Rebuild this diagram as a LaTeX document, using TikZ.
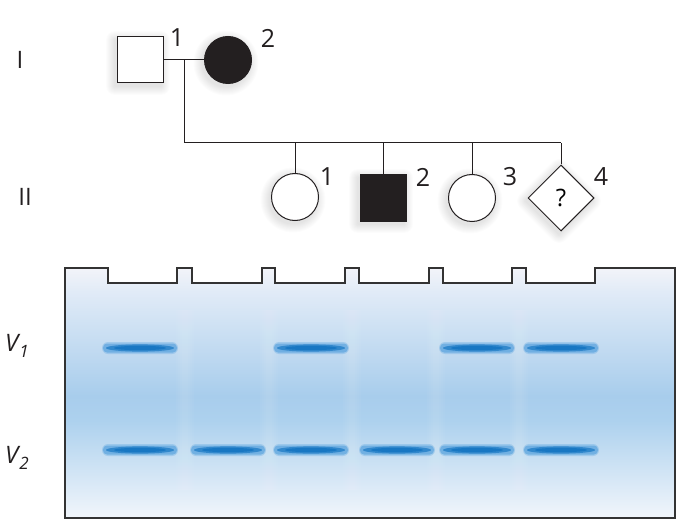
\documentclass[tikz,border=0pt]{standalone}
\usepackage{fontspec}
\setmainfont{Open Sans}
\usetikzlibrary{shapes.geometric}
\definecolor{ink}{HTML}{231F20}
\definecolor{gelA}{HTML}{F3F4F9}
\definecolor{gelB}{HTML}{E1EBF7}
\definecolor{gelC}{HTML}{A8CDEC}
\definecolor{gelD}{HTML}{ADD1EE}
\definecolor{gelE}{HTML}{F2F6FB}
\definecolor{bandc}{HTML}{2A8AD6}
\definecolor{bandd}{HTML}{0068BB}
\newcommand\gelband[2]{%
  \fill[bandc,opacity=0.22,rounded corners=6pt] (#1-38,#2-6) rectangle (#1+38,#2+6);
  \fill[bandc,opacity=0.40,rounded corners=4pt] (#1-37,#2-4.5) rectangle (#1+37,#2+4.5);
  \fill[bandd,opacity=0.55] (#1,#2) ellipse [x radius=34, y radius=3.6];
  \fill[bandd,opacity=0.50] (#1,#2) ellipse [x radius=26, y radius=2.2];
}
\newcommand\shsq[2]{\foreach \k in {1,...,9}{\fill[black,opacity=0.011,rounded corners=\k pt] (#1-2-23-\k,#2+3-23-\k) rectangle (#1-2+23+\k,#2+3+23+\k);}}
\newcommand\shci[2]{\foreach \k in {1,...,9}{\fill[black,opacity=0.011] (#1-2,#2+3) circle [radius=23.5+\k];}}
\newcommand\shdi[2]{\foreach \k in {1,...,9}{\fill[black,opacity=0.011,rounded corners=\k pt] (#1-2,#2+3-33-1.4*\k) -- (#1-2+33+1.4*\k,#2+3) -- (#1-2,#2+3+33+1.4*\k) -- (#1-2-33-1.4*\k,#2+3) -- cycle;}}
\tikzset{
  sym/.style={draw=ink, line width=1pt, inner sep=0pt},
  male/.style={sym, rectangle, minimum size=46pt},
  female/.style={sym, circle, minimum size=47pt},
  unknown/.style={sym, diamond, minimum width=66pt, minimum height=66pt, font=\fontsize{24}{28}\selectfont},
  affected/.style={fill=ink},
  normal/.style={fill=white},
  num/.style={text=ink, inner sep=0pt, font=\fontsize{25}{30}\selectfont},
  gen/.style={text=ink, inner sep=0pt, font=\fontsize{24}{28}\selectfont},
  vlab/.style={text=ink, inner sep=0pt, font=\fontsize{24}{28}\selectfont\itshape},
  line/.style={draw=ink, line width=1pt},
  gelline/.style={draw=black!80, line width=1.1pt, line join=miter},
}
\begin{document}
\begin{tikzpicture}[x=1pt,y=-1pt]
\useasboundingbox (0,0) rectangle (692,529);
\fill[white] (0,0) rectangle (692,529);

% soft shadows behind the pedigree symbols
\shsq{140}{60}
\shci{228}{60}
\shci{295}{197}
\shsq{383}{198}
\shci{472}{198}
\shdi{561}{198}

% generation labels
\node[gen] (gI) at (20,60) {I};
\node[gen] (gII) at (25,197) {II};

% generation I
\node[male,normal] (I1) at (140,60) {};
\node[female,affected] (I2) at (228,60) {};
\node[num] (nI1) at (177,38) {1};
\node[num] (nI2) at (268,38) {2};
\coordinate (m) at (184,60);
\coordinate (sL) at (184,143);
\coordinate (sR) at (561,143);
\draw[line] (I1.east) -- (I2.west);
\draw[line] (m) -- (sL) -- (sR);

% generation II
\node[female,normal] (II1) at (295,197) {};
\node[male,affected] (II2) at (383,198) {};
\node[female,normal] (II3) at (472,198) {};
\node[unknown,normal] (II4) at (561,198) {?};
\node[num] (nII1) at (327,177) {1};
\node[num] (nII2) at (423,177) {2};
\node[num] (nII3) at (510,177) {3};
\node[num] (nII4) at (601,177) {4};
\foreach \c in {II1,II2,II3,II4}{
  \draw[line] (\c.north) -- (\c.north |- sL);
}

% gel
\def\gelpath{(65,268) -- (108,268) -- (108,283) -- (177,283) -- (177,268)
  -- (192,268) -- (192,283) -- (262,283) -- (262,268)
  -- (275,268) -- (275,283) -- (345,283) -- (345,268)
  -- (359,268) -- (359,283) -- (429,283) -- (429,268)
  -- (443,268) -- (443,283) -- (512,283) -- (512,268)
  -- (526,268) -- (526,283) -- (595,283) -- (595,268)
  -- (675,268) -- (675,518) -- (65,518) -- cycle}
\begin{scope}
  \clip \gelpath;
  \shade[top color=gelA, bottom color=gelB] (65,267) rectangle (675,292);
  \shade[top color=gelB, bottom color=gelC] (65,291.5) rectangle (675,396);
  \shade[top color=gelC, bottom color=gelD] (65,395.5) rectangle (675,421);
  \shade[top color=gelD, bottom color=gelE] (65,420.5) rectangle (675,519);
  % slightly lighter gaps between lanes
  \foreach \gx in {185,269,352,436,519}{
    \foreach \w in {3,5,7,9}{
      \fill[white,opacity=0.035] (\gx-\w,310) rectangle (\gx+\w,490);
    }
  }
  % bands V1
  \gelband{140}{348}
  \gelband{311}{348}
  \gelband{477}{348}
  \gelband{561}{348}
  % bands V2
  \gelband{140}{450}
  \gelband{228}{450}
  \gelband{311}{450}
  \gelband{397}{450}
  \gelband{477}{450}
  \gelband{561}{450}
\end{scope}
\draw[gelline] \gelpath;

% band labels
\node[vlab,anchor=west] (v1) at (5,346) {V\kern1pt\raisebox{-6pt}{\fontsize{17}{20}\selectfont 1}};
\node[vlab,anchor=west] (v2) at (5,458) {V\kern1pt\raisebox{-6pt}{\fontsize{17}{20}\selectfont 2}};
\end{tikzpicture}
\end{document}
